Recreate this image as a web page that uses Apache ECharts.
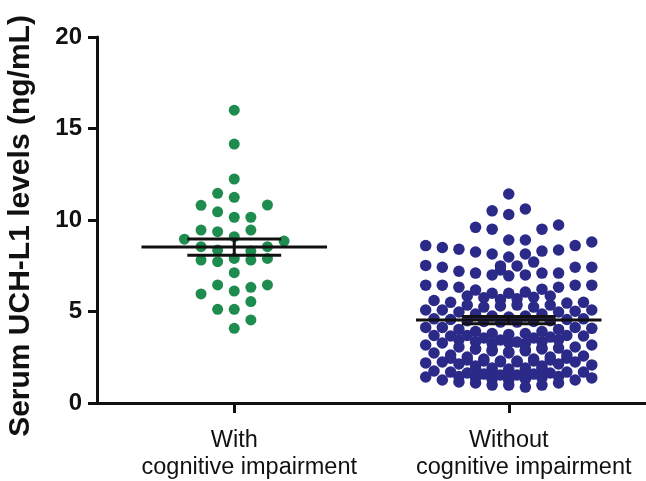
<!DOCTYPE html>
<html>
<head>
<meta charset="utf-8">
<script src="https://cdn.jsdelivr.net/npm/echarts@6/dist/echarts.min.js"></script>
<style>
  html, body { margin: 0; padding: 0; background: #fff; }
  #chart { width: 646px; height: 481px; }
</style>
</head>
<body>
<div id="chart"></div>
<script>
// group positions on the x axis
const groupTop = ['With', 'Without'];
const groupBottom = ['cognitive impairment', 'cognitive impairment'];
const groupPos = [1, 2];

// swarm column of each dot (in dot-widths from the group centre) and its value
const withCol = [0, 0, 0, -1, 0, -2, 2, -1, 0, 1, -2, -1, 1, -3, 0, 3, -2, 2, -1, 1,
  0, -2, -1, 1, 2, 0, -1, 1, 2, -2, 0, 1, -1, 0, 1, 0];
const withVal = [16.0, 14.15, 12.24, 11.46, 11.24, 10.8, 10.82, 10.45, 10.15, 10.15,
  9.45, 9.36, 9.45, 8.95, 9.09, 8.85, 8.54, 8.54, 8.36, 8.3,
  7.9, 7.81, 7.72, 7.81, 7.9, 7.12, 6.45, 6.32, 6.45, 5.96, 6.12, 5.54, 5.12, 5.12, 4.54, 4.08];

const withoutCol = [
  0,
  -1, 0, 1,
  -2, -1, 2, 3,
  0, 1,
  -5, -4, -3, -2, -1, 0, 1, 2, 3, 4, 5,
  -0.5, 0.5, 1.5,
  -5, -4, -3, -2, -1, 0, 1, 2, 3, 4, 5,
  -0.5,
  -5, -4, -3, -2, -1, 0, 1, 2, 3, 4, 5,
  -2.5, -1.5, -0.5, 0.5, 1.5, 2.5,
  -4.5, -3.5, -2.5, -1.5, -0.5, 0.5, 1.5, 2.5, 3.5, 4.5,
  -5, -4, -3, -2, -1, 0, 1, 2, 3, 4, 5,
  -4.5, -3.5, -2.5, -1.5, -0.5, 0.5, 1.5, 2.5, 3.5, 4.5,
  -5, -4, -3, -2, -1, 0, 1, 2, 3, 4, 5,
  -3, -2, -1, 0, 1, 2, 3,
  -4.5, -3.5, -2.5, -1.5, -0.5, 0.5, 1.5, 2.5, 3.5, 4.5,
  -2, -1, 0, 1, 2,
  -5, -4, -3, -2, -1, 0, 1, 2, 3, 4, 5,
  -3.5, -2.5, -1.5, -0.5, 0.5, 1.5, 2.5, 3.5,
  -4.5, -3.5, -2.5, -1.5, -0.5, 0.5, 1.5, 2.5, 3.5, 4.5,
  -2, -1, 0, 1, 2,
  -5, -4, -3, -2, -1, 0, 1, 2, 3, 4, 5,
  -3, -2, -1, 0, 1, 2, 3,
  -4.5, -3.5, -2.5, -1.5, -0.5, 0.5, 1.5, 2.5, 3.5, 4.5,
  -5, -4, -3, -2, -1, 0, 1, 2, 3, 4, 5
];
const withoutVal = [
  11.42,
  10.5, 10.3, 10.6,
  9.6, 9.5, 9.5, 9.73,
  8.91, 8.91,
  8.6, 8.5, 8.4, 8.25, 8.14, 7.98, 8.14, 8.3, 8.36, 8.6, 8.8,
  7.49, 7.49, 7.7,
  7.52, 7.42, 7.2, 7.1, 7.0, 6.95, 7.0, 7.1, 7.1, 7.42, 7.42,
  7.27,
  6.44, 6.44, 6.33, 6.17, 6.0, 6.0, 6.06, 6.22, 6.33, 6.44, 6.44,
  5.85, 5.75, 5.65, 5.7, 5.78, 5.85,
  5.6, 5.5, 5.35, 5.24, 5.3, 5.35, 5.24, 5.35, 5.46, 5.5,
  5.08, 5.08, 4.97, 4.86, 4.75, 4.7, 4.75, 4.86, 4.97, 5.02, 5.08,
  4.6, 4.56, 4.5, 4.46, 4.42, 4.42, 4.46, 4.5, 4.56, 4.6,
  4.13, 4.13, 4.02, 3.91, 3.8, 3.75, 3.8, 3.91, 4.02, 4.13, 4.08,
  3.45, 3.35, 3.25, 3.3, 3.25, 3.35, 3.45,
  3.69, 3.66, 3.69, 3.55, 3.44, 3.33, 3.55, 3.6, 3.69, 3.66,
  2.95, 2.85, 2.8, 2.85, 2.95,
  3.17, 3.28, 3.06, 2.95, 2.9, 2.73, 2.9, 3.0, 3.0, 3.06, 3.17,
  2.45, 2.35, 2.3, 2.25, 2.25, 2.3, 2.35, 2.45,
  2.73, 2.62, 2.51, 2.4, 2.29, 2.29, 2.4, 2.51, 2.62, 2.57,
  1.9, 1.8, 1.72, 1.8, 1.9,
  2.19, 2.24, 2.13, 2.02, 1.91, 1.86, 1.91, 2.02, 2.13, 2.24, 2.08,
  1.45, 1.38, 1.3, 1.25, 1.3, 1.38, 1.45,
  1.75, 1.69, 1.64, 1.58, 1.53, 1.53, 1.58, 1.64, 1.69, 1.69,
  1.42, 1.26, 1.15, 1.09, 0.98, 0.98, 0.87, 0.98, 1.09, 1.26, 1.37
];

// mean and SEM per group
const means = [8.52, 4.53];
const sems = [0.44, 0.2];

const colors = ['#1f8c4f', '#2c2a88'];
const colStep = 0.0605;      // one dot width in x-axis units
const meanHalf = 0.338;      // half length of the mean line
const capHalf = 0.171;       // half length of the SEM caps

const chart = echarts.init(document.getElementById('chart'));

const toPoints = (pos, cols, vals) => vals.map((v, i) => [pos + cols[i] * colStep, v]);

const statsData = groupPos.map((p, i) => [p, means[i], sems[i]]);

const labelFont = { color: '#111', fontFamily: 'Liberation Sans', fontSize: 23.5, lineHeight: 27 };

const option = {
  animation: false,
  grid: { left: 97, right: 0, top: 37, bottom: 78, containLabel: false, outerBoundsMode: 'none' },
  xAxis: {
    type: 'value',
    min: 0.5,
    max: 2.5,
    splitLine: { show: false },
    axisLine: { show: true, onZero: false, lineStyle: { color: '#111', width: 3 } },
    axisTick: { show: true, length: 10, customValues: groupPos, lineStyle: { color: '#111', width: 3 } },
    axisLabel: {
      customValues: groupPos,
      margin: 24,
      ...labelFont,
      formatter: (v) => {
        const i = groupPos.indexOf(Math.round(v));
        return i < 0 ? '' : '{a|' + groupTop[i] + '}\n{b|' + groupBottom[i] + '}';
      },
      rich: {
        a: { ...labelFont },
        b: { ...labelFont, padding: [0, 0, 0, 30] }
      }
    }
  },
  yAxis: {
    type: 'value',
    min: 0,
    max: 20,
    interval: 5,
    name: 'Serum UCH-L1 levels (ng/mL)',
    nameLocation: 'middle',
    nameGap: 61,
    nameRotate: 90,
    nameTextStyle: {
      color: '#111', fontFamily: 'Liberation Sans', fontWeight: 'bold', fontSize: 30,
      padding: [0, 12, 0, 0]
    },
    splitLine: { show: false },
    axisLine: { show: true, lineStyle: { color: '#111', width: 3 } },
    axisTick: { show: true, length: 9, lineStyle: { color: '#111', width: 3 } },
    axisLabel: { margin: 15, color: '#111', fontFamily: 'Liberation Sans', fontWeight: 'bold', fontSize: 24 }
  },
  series: [
    {
      type: 'scatter',
      symbol: 'circle',
      symbolSize: 11,
      itemStyle: { color: colors[0], opacity: 1 },
      data: toPoints(groupPos[0], withCol, withVal),
      z: 2
    },
    {
      type: 'scatter',
      symbol: 'circle',
      symbolSize: 11.5,
      itemStyle: { color: colors[1], opacity: 1 },
      data: toPoints(groupPos[1], withoutCol, withoutVal),
      z: 2
    },
    {
      type: 'custom',
      z: 5,
      data: statsData,
      renderItem: (params, api) => {
        const p = api.value(0), m = api.value(1), s = api.value(2);
        const a = api.coord([p - meanHalf, m]), b = api.coord([p + meanHalf, m]);
        const hiL = api.coord([p - capHalf, m + s]), hiR = api.coord([p + capHalf, m + s]);
        const loL = api.coord([p - capHalf, m - s]), loR = api.coord([p + capHalf, m - s]);
        const top = api.coord([p, m + s]), bot = api.coord([p, m - s]);
        const st = { stroke: '#111', lineWidth: 3 };
        return {
          type: 'group',
          children: [
            { type: 'line', shape: { x1: a[0], y1: a[1], x2: b[0], y2: b[1] }, style: st },
            { type: 'line', shape: { x1: hiL[0], y1: hiL[1], x2: hiR[0], y2: hiR[1] }, style: st },
            { type: 'line', shape: { x1: loL[0], y1: loL[1], x2: loR[0], y2: loR[1] }, style: st },
            { type: 'line', shape: { x1: top[0], y1: top[1], x2: bot[0], y2: bot[1] }, style: st }
          ]
        };
      }
    }
  ]
};

chart.setOption(option);
window.addEventListener('resize', () => chart.resize());
</script>
</body>
</html>
